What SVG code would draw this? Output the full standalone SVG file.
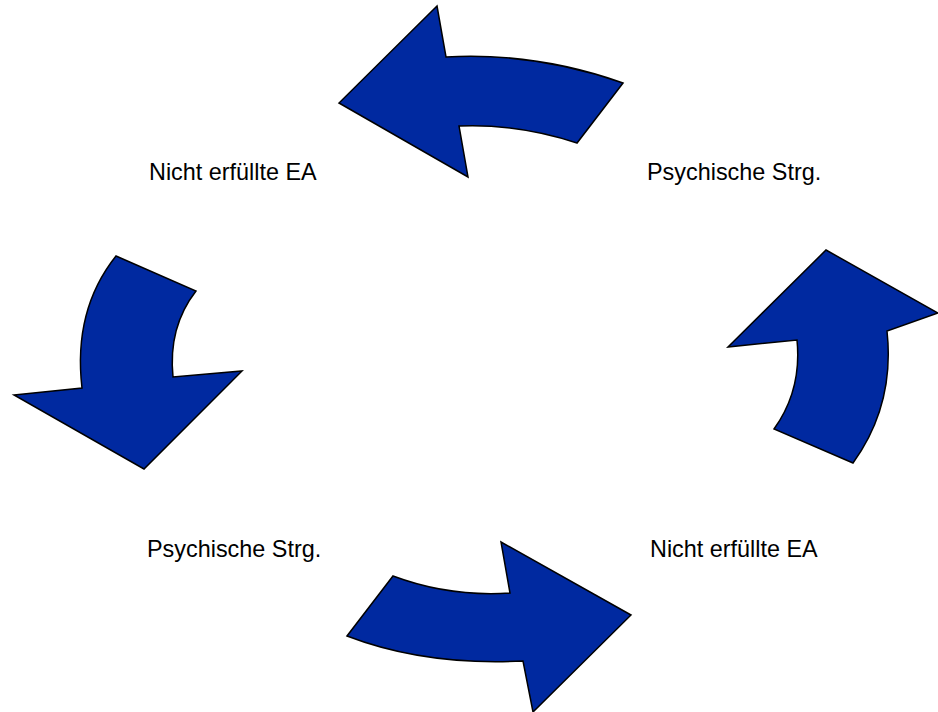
<svg xmlns="http://www.w3.org/2000/svg" width="938" height="712" viewBox="0 0 938 712">
<style>
.arrow{fill:#0029a0;stroke:#000;stroke-width:1.5;stroke-linejoin:miter}
.lbl{font-family:"Liberation Sans",Arial,sans-serif;font-size:23.4px;fill:#000}
</style>
<rect width="938" height="712" fill="#fff"/>
<g id="connectors">
<path id="arrow-top" class="arrow" d="M437,6 L446,57 Q535.5,52 623,83 L577,143 Q518,123.5 459,126 L468,177 L339,103 Z"/>
<path id="arrow-left" class="arrow" d="M116,256 L196,291 Q168,327 173,377 L242,371 L144,469 L14,395 L82,388 Q73,310 116,256 Z"/>
<path id="arrow-right" class="arrow" d="M826,250 L938,313 L887,331 Q895,405 853,463 L774,429 Q802,390 797,340 L728,347 Z"/>
<path id="arrow-bottom" class="arrow" d="M393,576 Q449,597 510,593 L501,542 L631,615 L533,712 L523,661 Q425,666 347,636 Z"/>
</g>
<g id="node-tl"><text class="lbl" x="149" y="180">Nicht erfüllte EA</text></g>
<g id="node-tr"><text class="lbl" x="647" y="180">Psychische Strg.</text></g>
<g id="node-bl"><text class="lbl" x="147" y="557">Psychische Strg.</text></g>
<g id="node-br"><text class="lbl" x="650" y="557">Nicht erfüllte EA</text></g>
</svg>
